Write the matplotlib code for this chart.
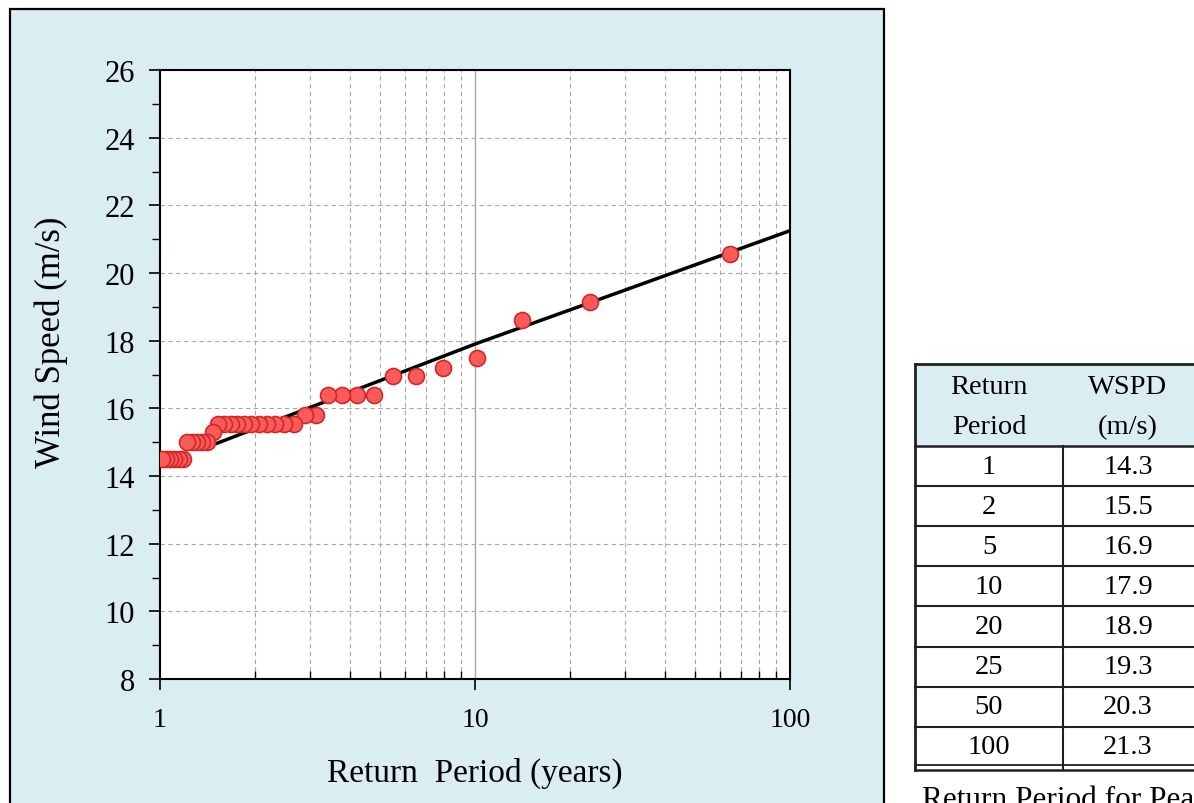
import numpy as np
import matplotlib
matplotlib.use('Agg')
import matplotlib.pyplot as plt
from matplotlib.patches import Rectangle
from matplotlib.lines import Line2D
from matplotlib.ticker import LogLocator, FixedLocator, NullFormatter, FixedFormatter

plt.rcParams['font.family'] = ['Liberation Serif', 'DejaVu Serif']

# observed annual peaks (plotting position return period, wind speed)
ret_period = [64.5, 23.2, 14.1, 10.15, 7.92, 6.50, 5.51, 4.78, 4.22, 3.78, 3.42,
              3.12, 2.88, 2.66, 2.48, 2.32, 2.18, 2.06, 1.95, 1.85, 1.76, 1.68,
              1.60, 1.53, 1.47, 1.41, 1.36, 1.31, 1.265, 1.22, 1.18, 1.145,
              1.11, 1.076, 1.045, 1.016]
wind_speed = [20.55, 19.15, 18.6, 17.5, 17.2, 16.95, 16.95, 16.4, 16.4, 16.4, 16.4,
              15.8, 15.8, 15.55, 15.55, 15.55, 15.55, 15.55, 15.55, 15.55, 15.55, 15.55,
              15.55, 15.55, 15.3, 15.0, 15.0, 15.0, 15.0, 15.0, 14.5, 14.5,
              14.5, 14.5, 14.5, 14.5]

# fitted line
fit_period = [1.5, 10, 100]
fit_speed = [14.95, 17.9, 21.25]

# table
table_period = ['1', '2', '5', '10', '20', '25', '50', '100']
table_wspd = ['14.3', '15.5', '16.9', '17.9', '18.9', '19.3', '20.3', '21.3']

W, H = 1194, 804
fig = plt.figure(figsize=(W / 100, H / 100), dpi=100)
fig.patch.set_facecolor('white')

def fx(px):
    return px / W

def fy(py):
    return 1 - py / H

# light blue chart panel
panel = Rectangle((fx(10), fy(820)), fx(874), fy(10) - fy(820), transform=fig.transFigure,
                  facecolor='#DAEDF3', edgecolor='black', linewidth=1.6, zorder=0)
fig.add_artist(panel)

ax = fig.add_axes([fx(160), fy(680), fx(630), fy(71) - fy(680)])
ax.set_facecolor('white')
ax.set_xscale('log')
ax.set_xlim(1, 100)
ax.set_ylim(8, 26)

# grid
for v in np.arange(8, 27, 2):
    ax.axhline(v, color='#A8A8A8', lw=0.8, ls=(0, (4, 3)), zorder=1)
for dec in [1, 10]:
    for k in range(2, 10):
        ax.axvline(dec * k, color='#A8A8A8', lw=0.8, ls=(0, (4, 3)), zorder=1)
ax.axvline(10, color='#A8A8A8', lw=1.0, zorder=1)

ax.plot(fit_period, fit_speed, color='black', lw=2.5, zorder=3)
ax.plot(ret_period, wind_speed, 'o', ms=11.5, mfc='#FF5A5A', mec='#D02828', mew=1.2, zorder=4)

ax.xaxis.set_major_locator(FixedLocator([1, 10, 100]))
ax.xaxis.set_major_formatter(FixedFormatter(['1', '10', '100']))
ax.xaxis.set_minor_locator(LogLocator(base=10, subs=np.arange(2, 10)))
ax.xaxis.set_minor_formatter(NullFormatter())
ax.set_yticks(np.arange(8, 27, 2))
ax.set_yticks(np.arange(9, 26, 2), minor=True)

ax.tick_params(axis='x', which='major', direction='out', length=8, width=1.2,
               labelsize=20, pad=12)
ax.tick_params(axis='x', which='minor', direction='in', length=6, width=1.0)
ax.tick_params(axis='y', which='major', direction='out', length=8, width=1.2,
               labelsize=22, pad=10)
ax.tick_params(axis='y', which='minor', direction='out', length=6, width=1.0)

for s in ax.spines.values():
    s.set_linewidth(1.5)
    s.set_color('black')

ax.set_xlabel('Return  Period (years)', fontsize=24, labelpad=18)
ax.set_ylabel('Wind Speed (m/s)', fontsize=25)
ax.yaxis.set_label_coords(-0.146, 0.555)

# table on the right
t_left, t_right, t_top, t_head = 915, 1200, 365, 447
row_h = 40.1
n_rows = len(table_period)
t_bottom = t_head + row_h * n_rows

fig.add_artist(Rectangle((fx(t_left), fy(t_head)), fx(t_right - t_left), fy(t_top) - fy(t_head),
                         transform=fig.transFigure, facecolor='#DAEDF3', edgecolor='none', zorder=1))
fig.add_artist(Rectangle((fx(t_left), fy(t_bottom + 3)), fx(t_right - t_left), fy(t_head) - fy(t_bottom + 3),
                         transform=fig.transFigure, facecolor='white', edgecolor='none', zorder=1))

def hline(py, lw=1.3):
    fig.add_artist(Line2D([fx(t_left), fx(t_right)], [fy(py), fy(py)], transform=fig.transFigure,
                          color='#202020', lw=lw, zorder=2))

hline(t_top, 2.0)
hline(t_head, 1.8)
for i in range(1, n_rows):
    hline(t_head + row_h * i, 1.5)
hline(t_bottom - 2, 1.3)
hline(t_bottom + 3, 1.8)
fig.add_artist(Line2D([fx(t_left), fx(t_left)], [fy(t_top), fy(t_bottom + 3)], transform=fig.transFigure,
                      color='#202020', lw=2.0, zorder=2))
col_div = 1063
fig.add_artist(Line2D([fx(col_div), fx(col_div)], [fy(t_head), fy(t_bottom + 3)], transform=fig.transFigure,
                      color='#202020', lw=1.5, zorder=2))

c1, c2 = 989, 1128
fs = 20.5
fig.text(fx(c1), fy(388), 'Return', ha='center', va='center', fontsize=fs, zorder=3)
fig.text(fx(c1), fy(428), 'Period', ha='center', va='center', fontsize=fs, zorder=3)
fig.text(fx(c2), fy(388), 'WSPD', ha='center', va='center', fontsize=fs, zorder=3)
fig.text(fx(c2), fy(428), '(m/s)', ha='center', va='center', fontsize=fs, zorder=3)
for i in range(n_rows):
    yc = t_head + row_h * (i + 0.5)
    fig.text(fx(c1), fy(yc), table_period[i], ha='center', va='center', fontsize=fs, zorder=3)
    fig.text(fx(c2), fy(yc), table_wspd[i], ha='center', va='center', fontsize=fs, zorder=3)

# caption runs past the edge of the picture, as in the source
fig.text(fx(922), fy(786), 'Return Period for Peak Wind Speed', ha='left', va='top', fontsize=22.5)

fig.savefig('out.png', dpi=100)
